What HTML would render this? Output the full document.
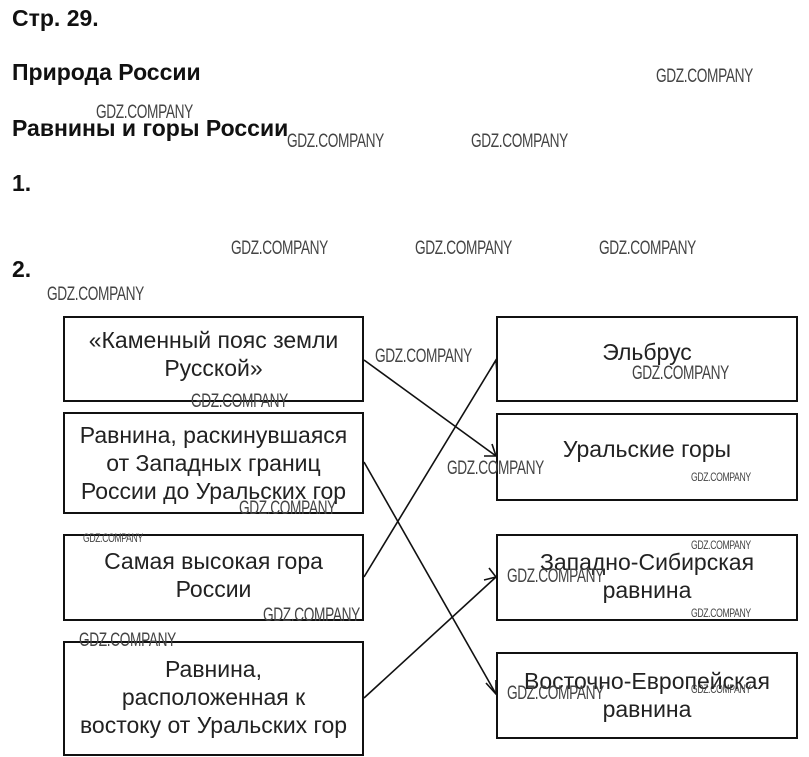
<!DOCTYPE html>
<html><head><meta charset="utf-8"><style>
body{margin:0;width:809px;height:757px;background:#fff;position:relative;overflow:hidden;font-family:"Liberation Sans",sans-serif;}
.h{position:absolute;left:12px;font-weight:bold;font-size:23px;color:#111;}
.b{position:absolute;border:2px solid #111;box-sizing:border-box;display:flex;align-items:center;justify-content:center;text-align:center;font-size:23px;line-height:28px;color:#222;padding-bottom:10px;white-space:nowrap;}
.w{position:absolute;font-size:19px;color:#444;transform:scaleX(0.72);transform-origin:left top;white-space:nowrap;letter-spacing:-0.5px;}
.s{font-size:12px;}
</style></head><body>
<div class="h" style="top:5px">Стр. 29.</div>
<div class="h" style="top:59px">Природа России</div>
<div class="h" style="top:115px">Равнины и горы России</div>
<div class="h" style="top:170px">1.</div>
<div class="h" style="top:256px">2.</div>

<div class="b" style="left:63px;top:316px;width:301px;height:86px">«Каменный пояс земли<br>Русской»</div>
<div class="b" style="left:63px;top:412px;width:301px;height:102px;padding-bottom:0px">Равнина, раскинувшаяся<br>от Западных границ<br>России до Уральских гор</div>
<div class="b" style="left:63px;top:534px;width:301px;height:87px;padding-bottom:6px">Самая высокая гора<br>России</div>
<div class="b" style="left:63px;top:641px;width:301px;height:115px;padding-bottom:4px">Равнина,<br>расположенная к<br>востоку от Уральских гор</div>

<div class="b" style="left:496px;top:316px;width:302px;height:86px;padding-bottom:14px">Эльбрус</div>
<div class="b" style="left:496px;top:413px;width:302px;height:88px;padding-bottom:16px">Уральские горы</div>
<div class="b" style="left:496px;top:534px;width:302px;height:87px;padding-bottom:4px">Западно-Сибирская<br>равнина</div>
<div class="b" style="left:496px;top:652px;width:302px;height:87px;padding-bottom:2px">Восточно-Европейская<br>равнина</div>

<svg width="809" height="757" style="position:absolute;left:0;top:0">
<g stroke="#111" stroke-width="1.6" fill="none">
<line x1="364" y1="360" x2="496" y2="456"/>
<line x1="364" y1="462" x2="496" y2="694"/>
<line x1="364" y1="577" x2="496" y2="360"/>
<line x1="364" y1="698" x2="496" y2="577"/>
<polyline points="484,456 496,456 492,444"/>
<polyline points="486,683 496,694 496,680"/>
<polyline points="490,370 496,360 497,374"/>
<polyline points="484,580 496,577 489,568"/>
</g></svg>

<div class="w" style="left:656px;top:66px">GDZ.COMPANY</div>
<div class="w" style="left:96px;top:102px">GDZ.COMPANY</div>
<div class="w" style="left:287px;top:131px">GDZ.COMPANY</div>
<div class="w" style="left:471px;top:131px">GDZ.COMPANY</div>
<div class="w" style="left:231px;top:238px">GDZ.COMPANY</div>
<div class="w" style="left:415px;top:238px">GDZ.COMPANY</div>
<div class="w" style="left:599px;top:238px">GDZ.COMPANY</div>
<div class="w" style="left:47px;top:284px">GDZ.COMPANY</div>
<div class="w" style="left:375px;top:346px">GDZ.COMPANY</div>
<div class="w" style="left:632px;top:363px">GDZ.COMPANY</div>
<div class="w" style="left:191px;top:391px">GDZ.COMPANY</div>
<div class="w" style="left:447px;top:458px">GDZ.COMPANY</div>
<div class="w s" style="left:691px;top:470px">GDZ.COMPANY</div>
<div class="w" style="left:239px;top:498px">GDZ.COMPANY</div>
<div class="w s" style="left:83px;top:531px">GDZ.COMPANY</div>
<div class="w s" style="left:691px;top:538px">GDZ.COMPANY</div>
<div class="w" style="left:507px;top:566px">GDZ.COMPANY</div>
<div class="w" style="left:263px;top:605px">GDZ.COMPANY</div>
<div class="w s" style="left:691px;top:606px">GDZ.COMPANY</div>
<div class="w" style="left:79px;top:630px">GDZ.COMPANY</div>
<div class="w s" style="left:691px;top:682px">GDZ.COMPANY</div>
<div class="w" style="left:507px;top:683px">GDZ.COMPANY</div>
</body></html>
